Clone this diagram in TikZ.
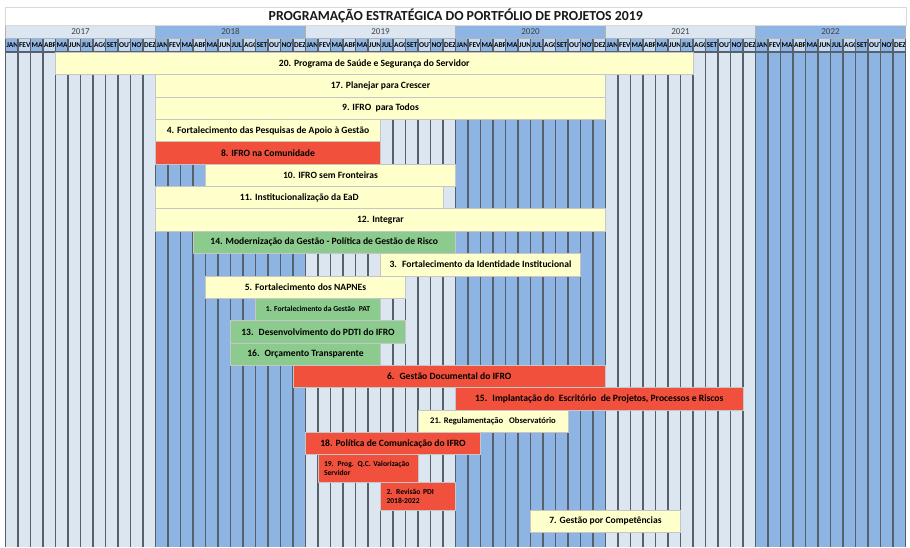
\documentclass[tikz,border=0pt]{standalone}
\usepackage{fontspec}
\setmainfont{Carlito}
\definecolor{lt}{HTML}{DCE6F1}
\definecolor{bl}{HTML}{8DB4E2}
\definecolor{mlt}{HTML}{C5D9F1}
\definecolor{yel}{HTML}{FFFFCC}
\definecolor{bred}{HTML}{F0503C}
\definecolor{grn}{HTML}{8CCB8E}
\definecolor{gline}{HTML}{56616C}
\definecolor{ytxt}{HTML}{404040}
\newcommand\gbar[7]{%
  \pgfmathsetmacro\bw{(#5-#4)*12.5}%
  \pgfmathsetmacro\bh{#3-#2}%
  \pgfmathsetmacro\bx{5.5+(#4+#5)*6.25}%
  \pgfmathsetmacro\by{(#2+#3)/2}%
  \node[barbox,fill=#6,minimum width=\bw pt,minimum height=\bh pt] (#1) at (\bx,\by) {#7};}
\newcommand\gbartwo[7]{%
  \pgfmathsetmacro\bw{(#5-#4)*12.5}%
  \pgfmathsetmacro\tw{(#5-#4)*12.5-12}%
  \pgfmathsetmacro\bh{#3-#2}%
  \pgfmathsetmacro\bx{5.5+(#4+#5)*6.25}%
  \pgfmathsetmacro\by{(#2+#3)/2}%
  \node[barbox,fill=#6,minimum width=\bw pt,minimum height=\bh pt,inner xsep=6pt,text width=\tw pt,align=left,font=\bfseries\fontsize{7.6}{9.6}\selectfont] (#1) at (\bx,\by) {#7};}
\begin{document}
\begin{tikzpicture}[x=1pt,y=-1pt,
  barbox/.style={draw=gray!45,line width=0.6pt,inner sep=0pt,outer sep=0pt,text=black,font=\bfseries\fontsize{9.6}{11}\selectfont},
  gridline/.style={draw=gline,line width=1.1pt},
  monthlbl/.style={anchor=west,inner sep=0pt,font=\bfseries\fontsize{7.4}{7}\selectfont,text=black},
  yearcell/.style={draw=gray!60,line width=0.6pt,inner sep=0pt,outer sep=0pt,minimum width=150pt,minimum height=13pt,text=ytxt,font=\fontsize{9}{10}\selectfont},
  titlebox/.style={draw=gray!30,line width=0.6pt,fill=white,inner sep=0pt,minimum width=900.5pt,minimum height=18pt,font=\bfseries\fontsize{13.8}{15}\selectfont,text=black!90}]
\path[use as bounding box,fill=white] (0,0) rectangle (910,547);
% column backgrounds
\foreach \i in {0,...,71}{
  \pgfmathtruncatemacro\yr{floor(\i/12)}
  \pgfmathsetmacro\xl{5.5+12.5*\i}
  \ifodd\yr\def\cc{bl}\else\def\cc{lt}\fi
  \fill[\cc] (\xl,52) rectangle ++(12.5,495);
}
% month header
\foreach \y in {0,...,5}{
  \foreach \m [count=\k from 0] in {JAN,FEV,MAR,ABR,MAI,JUN,JUL,AGO,SET,OUT,NOV,DEZ}{
    \pgfmathsetmacro\xl{5.5+150*\y+12.5*\k}
    \ifodd\k\def\cc{mlt}\else\def\cc{bl}\fi
    \begin{scope}
      \clip (\xl,38) rectangle ++(12.5,14);
      \fill[\cc] (\xl,38) rectangle ++(12.5,14);
      \node[monthlbl] (m\y-\k) at ({\xl+0.9},45.3) {\m};
    \end{scope}
  }
}
% grid lines
\foreach \i in {0,...,72}{
  \draw[gridline] ({5.5+12.5*\i},38) -- ({5.5+12.5*\i},547);
}
\draw[gridline] (5.5,38) -- (905.5,38);
\draw[gridline] (5.5,52) -- (905.5,52);
% year header
\foreach \yy [count=\k from 0] in {2017,2018,2019,2020,2021,2022}{
  \ifodd\k\def\cc{bl}\else\def\cc{lt}\fi
  \node[yearcell,fill=\cc] (y\yy) at ({80.5+150*\k},31.5) {\yy};
}
% title
\node[titlebox] (title) at (455.75,16) {PROGRAMAÇÃO ESTRATÉGICA DO PORTFÓLIO DE PROJETOS 2019};
% bars
\gbar{b20}{52.3}{74.65}{4}{55}{yel}{20. Programa de Saúde e Segurança do Servidor}
\gbar{b17}{74.65}{97.0}{12}{48}{yel}{17. Planejar para Crescer}
\gbar{b9}{97.0}{119.35}{12}{48}{yel}{9. IFRO \ para Todos}
\gbar{b4}{119.35}{141.7}{12}{30}{yel}{4. Fortalecimento das Pesquisas de Apoio à Gestão}
\gbar{b8}{141.7}{164.05}{12}{30}{bred}{8. IFRO na Comunidade}
\gbar{b10}{164.05}{186.4}{16}{36}{yel}{10. IFRO sem Fronteiras}
\gbar{b11}{186.4}{208.75}{12}{35}{yel}{11. Institucionalização da EaD}
\gbar{b12}{208.75}{231.1}{12}{48}{yel}{12. Integrar}
\gbar{b14}{231.1}{253.45}{15}{36}{grn}{14. Modernização da Gestão - Política de Gestão de Risco}
\gbar{b3}{253.45}{275.8}{30}{46}{yel}{3. \ Fortalecimento da Identidade Institucional}
\gbar{b5}{275.8}{298.15}{16}{32}{yel}{5. Fortalecimento dos NAPNEs}
\gbar{b1}{298.15}{320.5}{20}{30}{grn}{\fontsize{7.6}{9}\selectfont 1. Fortalecimento da Gestão \ PAT}
\gbar{b13}{320.5}{342.85}{18}{32}{grn}{13. \ Desenvolvimento do PDTI do IFRO}
\gbar{b16}{342.85}{365.2}{18}{30}{grn}{16. \ Orçamento Transparente}
\gbar{b6}{365.2}{387.55}{23}{48}{bred}{6. \ Gestão Documental do IFRO}
\gbar{b15}{387.55}{409.9}{36}{59}{bred}{15. \ Implantação do \ Escritório \ de Projetos, Processos e Riscos}
\gbar{b21}{409.9}{432.25}{33}{45}{yel}{\fontsize{8.6}{10}\selectfont 21. Regulamentação \ \ Observatório}
\gbar{b18}{432.25}{454.6}{24}{38}{bred}{18. Política de Comunicação do IFRO}
\gbartwo{b19}{454.6}{482.5}{25}{33}{bred}{19. Prog. Q.C. Valorização\\Servidor}
\gbartwo{b2}{482.5}{510.2}{30}{36}{bred}{2. Revisão PDI\\2018-2022}
\gbar{b7}{510.2}{532.5}{42}{54}{yel}{7. Gestão por Competências}
\end{tikzpicture}
\end{document}
